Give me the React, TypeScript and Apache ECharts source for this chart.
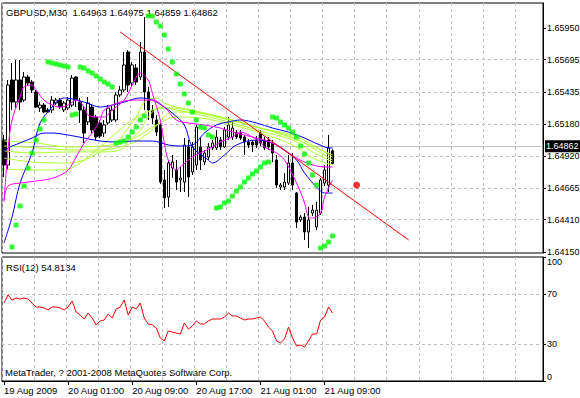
import React, { useEffect, useRef } from "react";
import * as echarts from "echarts";

const FONT = "Liberation Sans, Arial, sans-serif";

const symbolTitle = "GBPUSD,M30  1.64963 1.64975 1.64859 1.64862";
const rsiTitle = "RSI(12) 54.8134";
const copyright = "MetaTrader, ? 2001-2008 MetaQuotes Software Corp.";

const SLOTS = 135;
const timeTickIndex = [0, 16, 32, 48, 64, 80];
const timeTickLabels = ["19 Aug 2009", "20 Aug 01:00", "20 Aug 09:00", "20 Aug 17:00", "21 Aug 01:00", "21 Aug 09:00"];

const priceTicks = [1.6415, 1.6441, 1.64665, 1.6492, 1.6518, 1.65435, 1.65695, 1.6595];
const priceMin = 1.64142;
const priceMax = 1.66151;
const rsiTicks = [0, 30, 70, 100];
const lastPrice = 1.64862;

const opens = [
  1.6505, 1.64849, 1.65532, 1.65355, 1.65532, 1.65371, 1.65556, 1.65516, 1.65436, 1.65307,
  1.65331, 1.65291, 1.65291, 1.65347, 1.65371, 1.65291, 1.65307, 1.65331, 1.65556, 1.65355,
  1.65291, 1.65195, 1.65315, 1.65235, 1.65187, 1.65106, 1.65187, 1.65211, 1.65211, 1.65412,
  1.65452, 1.65757, 1.65508, 1.65629, 1.65556, 1.65757, 1.65436, 1.65291, 1.65211, 1.65171,
  1.64729, 1.64592, 1.64825, 1.64809, 1.64729, 1.64712, 1.64994, 1.64793, 1.64849, 1.64994,
  1.64873, 1.64913, 1.64986, 1.64986, 1.6505, 1.64994, 1.65074, 1.65074, 1.65106, 1.65106,
  1.65074, 1.65034, 1.65034, 1.6505, 1.65106, 1.6505, 1.6505, 1.65026, 1.64889, 1.64672,
  1.64672, 1.64704, 1.64865, 1.64624, 1.64407, 1.64431, 1.64311, 1.64463, 1.64351, 1.64463,
  1.64704, 1.64688, 1.64963,
];
const highs = [
  1.6509, 1.65532, 1.65669, 1.65693, 1.65693, 1.65596, 1.65572, 1.65532, 1.65452, 1.65355,
  1.65347, 1.65307, 1.65404, 1.65388, 1.65388, 1.65363, 1.65396, 1.65572, 1.65564, 1.65388,
  1.65315, 1.65396, 1.65339, 1.65251, 1.65211, 1.65211, 1.65331, 1.65323, 1.65436, 1.65484,
  1.65757, 1.65773, 1.65677, 1.65661, 1.65838, 1.66038, 1.65476, 1.65331, 1.65251, 1.65187,
  1.64809, 1.64889, 1.6493, 1.64889, 1.64833, 1.65066, 1.6505, 1.65034, 1.65171, 1.65074,
  1.6497, 1.65026, 1.6505, 1.6513, 1.65074, 1.65154, 1.65235, 1.65195, 1.6513, 1.6513,
  1.6509, 1.65058, 1.6505, 1.65082, 1.6513, 1.65074, 1.65074, 1.6505, 1.6493, 1.64704,
  1.64785, 1.6493, 1.64946, 1.64632, 1.64447, 1.64463, 1.64512, 1.64528, 1.64552, 1.64745,
  1.64849, 1.6509, 1.64975,
];
const lows = [
  1.64753, 1.64809, 1.65291, 1.65307, 1.65291, 1.65355, 1.65492, 1.65428, 1.65307, 1.65275,
  1.65267, 1.65267, 1.65267, 1.65331, 1.65299, 1.65275, 1.65291, 1.65315, 1.65315, 1.65187,
  1.65026, 1.65171, 1.65106, 1.6505, 1.65066, 1.65074, 1.65171, 1.65195, 1.65195, 1.65396,
  1.65436, 1.65436, 1.65484, 1.65492, 1.65532, 1.65291, 1.65211, 1.65179, 1.65082, 1.64696,
  1.64503, 1.64512, 1.64745, 1.64648, 1.64632, 1.64632, 1.64592, 1.64769, 1.64809, 1.64809,
  1.64849, 1.64889, 1.6497, 1.6497, 1.6497, 1.64986, 1.6505, 1.6505, 1.65058, 1.6505,
  1.6493, 1.64986, 1.64954, 1.64986, 1.65002, 1.6497, 1.6497, 1.64873, 1.64664, 1.64648,
  1.64648, 1.64688, 1.64648, 1.64343, 1.64391, 1.64246, 1.64182, 1.64439, 1.64327, 1.64447,
  1.6468, 1.64632, 1.64859,
];
const closes = [
  1.64849, 1.65492, 1.65355, 1.65532, 1.65355, 1.65556, 1.65508, 1.65452, 1.65315, 1.65331,
  1.65275, 1.65275, 1.65371, 1.65371, 1.65315, 1.65347, 1.65371, 1.65548, 1.65371, 1.65291,
  1.65106, 1.65347, 1.6513, 1.65074, 1.65082, 1.65171, 1.65307, 1.65291, 1.65412, 1.65452,
  1.65653, 1.65492, 1.65653, 1.65516, 1.65757, 1.65436, 1.65291, 1.65227, 1.65114, 1.64712,
  1.64584, 1.64865, 1.64873, 1.64712, 1.64745, 1.6501, 1.64753, 1.64994, 1.65154, 1.64889,
  1.64946, 1.64994, 1.65026, 1.65074, 1.64994, 1.6513, 1.65171, 1.65146, 1.65074, 1.65066,
  1.65034, 1.6501, 1.6501, 1.6501, 1.65026, 1.64986, 1.64994, 1.64946, 1.64688, 1.64688,
  1.64712, 1.64865, 1.64688, 1.64391, 1.64431, 1.64311, 1.64407, 1.64487, 1.64487, 1.64729,
  1.64809, 1.64986, 1.64862,
];

const sarValues = [
  null, null, 1.6419, 1.64367, 1.6452, 1.6468, 1.64825, 1.64946, 1.6505, 1.65138,
  1.65211, 1.65677, 1.65669, 1.65661, 1.65653, 1.65645, 1.65637, 1.65251, 1.65259, 1.65637,
  1.65629, 1.65604, 1.65588, 1.65564, 1.6554, 1.65516, 1.655, 1.65476, 1.65026, 1.65034,
  1.65042, 1.65074, 1.65114, 1.65154, 1.65211, 1.65243, 1.66046, 1.66046, 1.65998, 1.65966,
  1.65894, 1.65781, 1.65677, 1.6558, 1.655, 1.6542, 1.65347, 1.65275, 1.65211, 1.65154,
  1.65146, 1.6509, 1.65074, 1.64503, 1.64512, 1.64544, 1.6456, 1.646, 1.6464, 1.64672,
  1.64712, 1.64745, 1.64777, 1.64801, 1.64833, 1.64865, 1.64873, 1.65235, 1.65227, 1.65195,
  1.65171, 1.65146, 1.65114, 1.65074, 1.65002, 1.64937, 1.64865, 1.64769, 1.64688, 1.64182,
  1.64198, 1.6423, 1.64278,
];

const rsiValues = [
  62.9, 69.4, 65.3, 66.9, 66.1, 66.9, 66.1, 62.9, 59.7, 59.7,
  58.9, 57.3, 59.7, 59.7, 58.9, 57.3, 59.7, 64.5, 55.6, 53.2,
  50.0, 54.8, 50.8, 45.2, 48.4, 49.2, 54.0, 50.8, 58.1, 59.7,
  65.3, 53.2, 59.7, 58.1, 62.9, 50.8, 46.0, 45.2, 42.7, 34.7,
  32.3, 40.3, 39.5, 38.7, 37.9, 46.8, 41.9, 44.4, 48.4, 46.0,
  46.0, 48.4, 50.0, 50.0, 50.0, 51.6, 54.8, 52.4, 52.4, 50.8,
  49.2, 50.0, 50.0, 50.8, 51.6, 48.4, 43.5, 40.3, 32.3, 30.6,
  33.9, 43.5, 34.7, 28.2, 29.0, 27.4, 32.3, 37.9, 37.9, 49.2,
  51.6, 59.7, 54.8134,
];

// indicator lines: [bar index, price]
const blueFast = [
  [0, 1.64222], [1.5, 1.64431], [4, 1.64704], [6.5, 1.64946], [9, 1.65187], [11.5, 1.65315],
  [13.25, 1.65355], [14.75, 1.65388], [17.25, 1.6538], [19.75, 1.65355], [21.5, 1.65331],
  [23.5, 1.65315], [27, 1.65331], [30.25, 1.65355], [33.5, 1.65388], [37, 1.65371],
  [39.5, 1.65315], [41.5, 1.65267], [44.75, 1.65171], [46.5, 1.64994], [50.75, 1.64889],
  [52.25, 1.64865], [54.75, 1.6493], [58.25, 1.6501], [62.75, 1.6505], [67, 1.65026],
  [70.25, 1.6497], [72.75, 1.64889], [75.25, 1.64785], [77.75, 1.64672], [79.5, 1.64624],
  [82, 1.64624],
];
const blueSlow = [
  [0, 1.64954], [0.75, 1.64986], [4, 1.65026], [7.25, 1.65066], [9.75, 1.65106], [12.25, 1.65106],
  [15.75, 1.6509], [19.75, 1.65066], [24, 1.65042], [28.25, 1.65034], [32.25, 1.65042],
  [36.5, 1.65042], [41, 1.6501], [44, 1.65002], [46.5, 1.6501], [50.25, 1.65106], [53.25, 1.65171],
  [55.75, 1.65195], [59, 1.65211], [62.75, 1.65187], [67, 1.65146], [71, 1.65114],
  [75.25, 1.65066], [79.5, 1.64994], [82, 1.64986],
];
const magentaFast = [
  [0, 1.64552], [0.75, 1.6497], [2.25, 1.65211], [4, 1.65396], [4.75, 1.65476], [6.5, 1.65492],
  [7.75, 1.65452], [9.5, 1.65371], [11.5, 1.65331], [13.5, 1.65315], [15.75, 1.65331],
  [17.75, 1.65371], [19.5, 1.65315], [21, 1.65251], [22.75, 1.65235], [25.25, 1.65235],
  [27.25, 1.65291], [29.5, 1.65371], [32, 1.65492], [34, 1.65588], [35.75, 1.65532],
  [37.25, 1.65428], [38.5, 1.65211], [39.75, 1.65026], [41, 1.64889], [42.75, 1.64809],
  [44, 1.64833], [46.5, 1.64913], [49, 1.64946], [51.5, 1.64994], [54, 1.65034], [56.5, 1.65074],
  [59, 1.65114], [61.5, 1.65074], [64, 1.65034], [65.25, 1.64994], [67.75, 1.64946],
  [70.25, 1.64889], [72.75, 1.64704], [74.5, 1.64544], [76, 1.64431], [77.25, 1.64423],
  [78.5, 1.64463], [80.25, 1.64592], [82, 1.64729],
];
const magentaSlow = [
  [0, 1.64568], [0.5, 1.6468], [4, 1.64704], [9.75, 1.64729], [13.25, 1.64753], [15.75, 1.64809],
  [18.25, 1.64913], [19.75, 1.65026], [21.5, 1.65106], [23.5, 1.65211], [25.25, 1.65291],
  [28.5, 1.65355], [32.75, 1.65371], [37, 1.65371], [39.5, 1.65315], [42.75, 1.65211],
  [45.75, 1.65187], [49.75, 1.65171], [54, 1.65146], [58.25, 1.65106], [62.75, 1.65066],
  [67, 1.65026], [71, 1.64946], [75.25, 1.64873], [79.5, 1.64833], [82, 1.64833],
];
const lime1 = [
  [0, 1.65042], [8.25, 1.65026], [15.75, 1.64994], [24, 1.65002], [27.75, 1.65026], [30.25, 1.65106],
  [32.75, 1.65235], [35.25, 1.65355], [37.75, 1.65388], [40.25, 1.65347], [42.75, 1.65315],
  [49, 1.65275], [56.5, 1.65211], [64, 1.65146], [71.5, 1.6509], [76.5, 1.6501], [81.5, 1.64913],
];
const lime2 = [
  [0, 1.64962], [7.25, 1.64946], [15.75, 1.64954], [24, 1.64954], [28.5, 1.6497], [31, 1.65034],
  [33.5, 1.6513], [36, 1.65235], [38.5, 1.65315], [42.75, 1.65291], [49, 1.65251], [56.5, 1.65187],
  [64, 1.65122], [71.5, 1.6505], [76.5, 1.64954], [81.5, 1.64873],
];
const lime3 = [
  [0, 1.64905], [7.25, 1.64873], [15.75, 1.64865], [19.75, 1.64889], [24, 1.64954], [28.25, 1.6501],
  [32.75, 1.65074], [37.75, 1.65171], [42.75, 1.65235], [49, 1.65227], [56.5, 1.65171],
  [64, 1.65106], [71.5, 1.6501], [76.5, 1.64905], [81.5, 1.64849],
];
const lime4 = [
  [0, 1.64817], [5.75, 1.64809], [11.5, 1.64809], [15.75, 1.64817], [19.75, 1.64889], [24, 1.64994],
  [28.25, 1.65106], [32.25, 1.65211], [36.5, 1.65291], [41.5, 1.65307], [49, 1.65267],
  [56.5, 1.65211], [64, 1.65146], [71.5, 1.65074], [76.5, 1.64986], [81.5, 1.64889],
];
const lime5 = [
  [0, 1.65002], [9, 1.64986], [16.5, 1.6497], [24, 1.6497], [31.5, 1.65026], [36.5, 1.6513],
  [41.5, 1.65275], [46.5, 1.65275], [54, 1.65227], [61.5, 1.65162], [69, 1.65098], [75.25, 1.65026],
  [81.5, 1.6493],
];
const trendLine = [
  [29, 1.65918],
  [101, 1.64246],
];
const redMarker = [[88, 1.64688]];

const categories = Array.from({ length: SLOTS }, (_, i) => String(i));

export default function App() {
  const ref = useRef<HTMLDivElement>(null);
  useEffect(() => {
    if (!ref.current) return;
    const chart = echarts.init(ref.current, null, { renderer: "svg" });
    const grid = "#c0c0c0";
    const dash = [3, 3];
    const AXF = 9;
    const tickShow = (idx: number) => timeTickIndex.indexOf(idx) >= 0;
    const lineSeries = (data: number[][], color: string) => ({
      type: "line",
      xAxisIndex: 0,
      yAxisIndex: 0,
      data,
      smooth: 0.35,
      showSymbol: false,
      symbol: "none",
      lineStyle: { color, width: 1 },
      silent: true,
      z: 3,
    });
    const option: any = {
      animation: false,
      backgroundColor: "#ffffff",
      textStyle: { fontFamily: FONT },
      grid: [
        { left: 2, right: 37, top: 3, height: 250, show: true, borderColor: "#000", borderWidth: 1, backgroundColor: "transparent", outerBoundsMode: "none" },
        { left: 2, right: 37, top: 257, height: 124, show: true, borderColor: "#000", borderWidth: 1, backgroundColor: "transparent", outerBoundsMode: "none" },
      ],
      xAxis: [
        {
          type: "category",
          gridIndex: 0,
          data: categories,
          boundaryGap: true,
          axisLine: { show: false },
          axisTick: { show: false },
          axisLabel: { show: false },
          splitLine: { show: true, interval: 7, lineStyle: { color: grid, type: dash, width: 1 } },
        },
        {
          type: "category",
          gridIndex: 1,
          data: categories,
          boundaryGap: true,
          axisLine: { show: true, lineStyle: { color: "#000", width: 1 } },
          axisTick: { show: true, alignWithLabel: true, interval: tickShow, length: 4, lineStyle: { color: "#000" } },
          axisLabel: {
            show: true,
            interval: tickShow,
            formatter: (_v: string, idx: number) => {
              const k = timeTickIndex.indexOf(idx);
              return k >= 0 ? timeTickLabels[k] : "";
            },
            align: "left",
            margin: 4,
            color: "#000",
            fontSize: 9.5,
            fontFamily: FONT,
          },
          splitLine: { show: true, interval: 7, lineStyle: { color: grid, type: dash, width: 1 } },
        },
      ],
      yAxis: [
        {
          type: "value",
          gridIndex: 0,
          position: "right",
          min: priceMin,
          max: priceMax,
          scale: true,
          axisLine: { show: true, lineStyle: { color: "#000" } },
          axisTick: { show: true, customValues: priceTicks, length: 3, lineStyle: { color: "#000" } },
          axisLabel: { customValues: priceTicks, formatter: (v: number) => v.toFixed(5), margin: 4, color: "#000", fontSize: AXF, fontFamily: FONT },
          splitLine: { show: true, showMinLine: false, showMaxLine: false, lineStyle: { color: grid, type: dash, width: 1 } },
        },
        {
          type: "value",
          gridIndex: 1,
          position: "right",
          min: 0,
          max: 100,
          axisLine: { show: true, lineStyle: { color: "#000" } },
          axisTick: { show: true, customValues: rsiTicks, length: 3, lineStyle: { color: "#000" } },
          axisLabel: {
            customValues: rsiTicks,
            margin: 4,
            color: "#000",
            fontSize: AXF,
            fontFamily: FONT,
            verticalAlignMinLabel: "bottom",
            verticalAlignMaxLabel: "top",
          },
          splitLine: { show: true, showMinLine: false, showMaxLine: false, lineStyle: { color: grid, type: dash, width: 1 } },
        },
      ],
      series: [
        {
          type: "candlestick",
          xAxisIndex: 0,
          yAxisIndex: 0,
          data: opens.map((o, i) => [o, closes[i], lows[i], highs[i]]),
          barWidth: 3,
          itemStyle: { color: "#ffffff", color0: "#000000", borderColor: "#000000", borderColor0: "#000000", borderWidth: 1 },
          silent: true,
          z: 2,
          markLine: {
            silent: true,
            symbol: ["none", "none"],
            animation: false,
            data: [{ yAxis: lastPrice }],
            lineStyle: { color: "#c0c0c0", type: "solid", width: 1 },
            label: {
              show: true,
              position: "end",
              distance: 2,
              formatter: lastPrice.toFixed(5),
              color: "#ffffff",
              backgroundColor: "#000000",
              padding: [2, 2, 1, 1],
              fontSize: AXF,
              fontFamily: FONT,
            },
            z: 1,
          },
        },
        lineSeries(lime1, "#adff2f"),
        lineSeries(lime2, "#adff2f"),
        lineSeries(lime3, "#adff2f"),
        lineSeries(lime4, "#adff2f"),
        lineSeries(lime5, "#adff2f"),
        lineSeries(blueSlow, "#0000ff"),
        lineSeries(blueFast, "#0000ff"),
        lineSeries(magentaSlow, "#ff00ff"),
        lineSeries(magentaFast, "#ff00ff"),
        {
          type: "line",
          xAxisIndex: 0,
          yAxisIndex: 0,
          data: trendLine,
          showSymbol: false,
          symbol: "none",
          lineStyle: { color: "#ff0000", width: 1 },
          silent: true,
          z: 4,
        },
        {
          type: "scatter",
          xAxisIndex: 0,
          yAxisIndex: 0,
          data: sarValues.map((v, i) => (v == null ? null : [i, v])).filter((d) => d),
          symbol: "roundRect",
          symbolSize: 5,
          itemStyle: { color: "#00ff00" },
          silent: true,
          z: 5,
        },
        {
          type: "scatter",
          xAxisIndex: 0,
          yAxisIndex: 0,
          data: redMarker,
          symbol: "circle",
          symbolSize: 7,
          itemStyle: { color: "#ff0000" },
          silent: true,
          z: 5,
        },
        {
          type: "line",
          xAxisIndex: 1,
          yAxisIndex: 1,
          data: rsiValues,
          showSymbol: false,
          symbol: "none",
          lineStyle: { color: "#ff0000", width: 1 },
          silent: true,
        },
      ],
      graphic: [
        { type: "text", x: 6, y: 12, silent: true, style: { text: symbolTitle, fill: "#000", font: `9.5px ${FONT}`, verticalAlign: "middle" } },
        { type: "text", x: 6, y: 267, silent: true, style: { text: rsiTitle, fill: "#000", font: `9.5px ${FONT}`, verticalAlign: "middle" } },
        { type: "text", x: 5, y: 372, silent: true, style: { text: copyright, fill: "#000", font: `9.5px ${FONT}`, verticalAlign: "middle" } },
      ],
    };
    chart.setOption(option);
    return () => chart.dispose();
  }, []);
  return <div ref={ref} style={{ width: 580, height: 398, position: "absolute", left: 0, top: 0 }} />;
}
